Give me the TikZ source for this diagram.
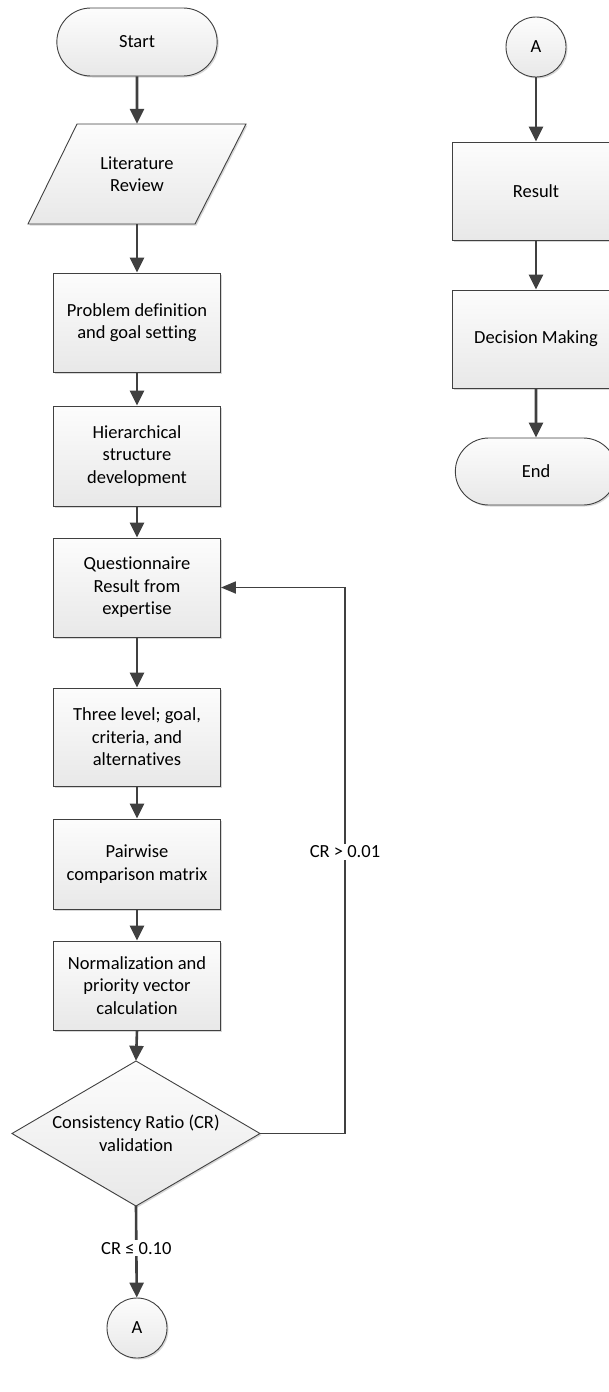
\documentclass[tikz,border=0pt]{standalone}
\usepackage{fontspec}
\setmainfont{Carlito}[Ligatures=NoCommon]
\usetikzlibrary{arrows.meta,shapes.misc,shadows,calc}
\definecolor{edgec}{HTML}{404040}
\definecolor{arrowc}{HTML}{404040}
\begin{document}
\begin{tikzpicture}[x=1pt,y=-1pt,
 font=\fontsize{18.5}{22.5}\selectfont,
 boxfill/.style={top color=black!1, bottom color=black!9, draw=edgec, line width=0.9pt,
   drop shadow={shadow xshift=1.5pt,shadow yshift=-1.5pt,fill=black!35,opacity=0.45}},
 proc/.style={boxfill, rectangle, minimum width=167pt, minimum height=99pt, align=center, inner sep=2pt},
 term/.style={boxfill, rounded rectangle, minimum width=167pt, minimum height=68pt},
 conn/.style={boxfill, circle, minimum size=60pt, inner sep=0pt},
 ghost/.style={rectangle, align=center, inner sep=0pt},
 arr/.style={draw=arrowc, line width=2.6pt, -{Triangle[width=14pt,length=15pt]}},
 arrthin/.style={draw=arrowc, line width=1.8pt, -{Triangle[width=12pt,length=15pt]}},
 lab/.style={fill=white, inner sep=2pt}
]
\useasboundingbox (0,0) rectangle (609,1392);
\clip (0,0) rectangle (609,1392);

% left column
\node[term] (start) at (137,42) {Start};
\path[boxfill] (77,124) -- (246,124) -- (195,224) -- (28,224) -- cycle;
\node[ghost, minimum width=218pt, minimum height=100pt] (lit) at (137,174) {Literature\\Review};
\node[proc] (pd) at (137,322.5) {Problem definition\\and goal setting};
\node[proc, minimum height=100pt] (hs) at (137,456) {Hierarchical\\structure\\development};
\node[proc] (q) at (137,587.5) {Questionnaire\\Result from\\expertise};
\node[proc, minimum height=98pt] (tl) at (137,737) {Three level; goal,\\criteria, and\\alternatives};
\node[proc, minimum height=90pt] (pw) at (137,864) {Pairwise\\comparison matrix};
\node[proc, minimum height=89pt] (nm) at (137,985.5) {Normalization and\\priority vector\\calculation};
\path[boxfill] (136,1061) -- (260,1133.5) -- (136,1206) -- (12,1133.5) -- cycle;
\node[ghost, minimum width=248pt, minimum height=145pt] (cr) at (136,1133.5) {Consistency Ratio (CR)\\validation};
\node[conn] (a1) at (137,1328) {A};

% right column
\node[conn] (a2) at (536,47) {A};
\node[proc, minimum width=168pt, minimum height=98pt] (res) at (536,191) {Result};
\node[proc, minimum width=168pt, minimum height=98pt] (dm) at (536,339) {Decision Making};
\node[term, minimum width=168pt, minimum height=67pt] (end) at (536,471.5) {End};

% connectors
\draw[arr] (start) -- (lit);
\draw[arr] (lit) -- (pd);
\draw[arr] (pd) -- (hs);
\draw[arr] (hs) -- (q);
\draw[arr] (q) -- (tl);
\draw[arr] (tl) -- (pw);
\draw[arr] (pw) -- (nm);
\draw[arr] (nm.south) -- (cr.north);
\draw[arr] (cr.south) -- node[lab, pos=0.46] (l2) {CR ≤ 0.10} (a1);
\coordinate (fb) at (345,1133.5);
\draw[arrthin] (cr.east) -- (fb) |- (q.east);
\node[lab] (l1) at (345,852) {CR > 0.01};

\draw[arr] (a2) -- (res);
\draw[arr] (res) -- (dm);
\draw[arr] (dm) -- (end);
\end{tikzpicture}
\end{document}
